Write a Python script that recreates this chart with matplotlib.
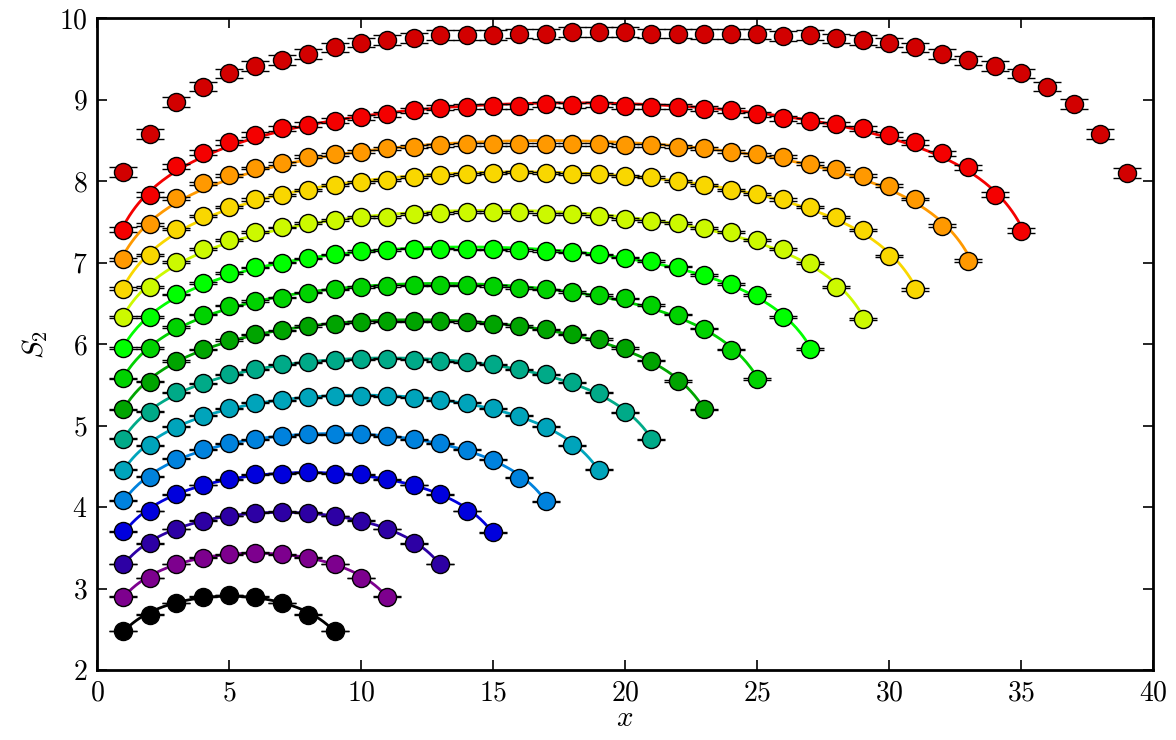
import numpy as np
import matplotlib
matplotlib.use('Agg')
import matplotlib.pyplot as plt

plt.rcParams['font.family'] = 'serif'
plt.rcParams['font.serif'] = ['cmr10']
plt.rcParams['mathtext.fontset'] = 'cm'
plt.rcParams['axes.formatter.use_mathtext'] = True

# chain lengths and second Renyi entropy for each cut position x = 1..L-1
sizes = [10, 12, 14, 16, 18, 20, 22, 24, 26, 28, 30, 32, 34, 36, 40]

s2_10 = [2.48, 2.68, 2.82, 2.90, 2.92, 2.90, 2.82, 2.68, 2.48]
s2_12 = [2.90, 3.13, 3.30, 3.38, 3.42, 3.44, 3.42, 3.38, 3.30, 3.13, 2.90]
s2_14 = [3.30, 3.555, 3.73, 3.83, 3.89, 3.93, 3.94, 3.93, 3.89, 3.83, 3.73,
         3.555, 3.30]
s2_16 = [3.70, 3.95, 4.155, 4.27, 4.34, 4.40, 4.41, 4.425, 4.41, 4.40, 4.34,
         4.27, 4.155, 3.95, 3.69]
s2_18 = [4.08, 4.37, 4.59, 4.71, 4.78, 4.83, 4.87, 4.89, 4.895, 4.89, 4.87,
         4.83, 4.78, 4.70, 4.58, 4.36, 4.07]
s2_20 = [4.46, 4.76, 4.985, 5.12, 5.21, 5.28, 5.31, 5.345, 5.365, 5.365, 5.36,
         5.34, 5.31, 5.28, 5.21, 5.12, 4.985, 4.76, 4.46]
s2_22 = [4.84, 5.17, 5.41, 5.52, 5.63, 5.69, 5.75, 5.775, 5.80, 5.815, 5.82,
         5.81, 5.79, 5.775, 5.75, 5.69, 5.63, 5.53, 5.40, 5.16, 4.83]
s2_24 = [5.20, 5.54, 5.79, 5.935, 6.05, 6.12, 6.17, 6.22, 6.25, 6.27, 6.28,
         6.28, 6.28, 6.27, 6.25, 6.22, 6.18, 6.12, 6.06, 5.95, 5.795, 5.545, 5.20]
s2_26 = [5.58, 5.95, 6.21, 6.36, 6.47, 6.53, 6.57, 6.63, 6.67, 6.70, 6.71,
         6.72, 6.72, 6.72, 6.71, 6.69, 6.67, 6.64, 6.60, 6.56, 6.48, 6.36, 6.19,
         5.93, 5.57]
s2_28 = [5.95, 6.335, 6.61, 6.75, 6.87, 6.94, 7.00, 7.05, 7.10, 7.145, 7.15,
         7.17, 7.17, 7.16, 7.16, 7.15, 7.14, 7.125, 7.10, 7.06, 7.02, 6.95, 6.85,
         6.74, 6.60, 6.33, 5.94]
s2_30 = [6.33, 6.70, 7.01, 7.17, 7.28, 7.37, 7.43, 7.48, 7.52, 7.555, 7.56,
         7.60, 7.61, 7.62, 7.62, 7.62, 7.60, 7.60, 7.57, 7.54, 7.51, 7.48, 7.42,
         7.38, 7.28, 7.17, 7.00, 6.70, 6.31]
s2_32 = [6.68, 7.09, 7.41, 7.57, 7.68, 7.775, 7.83, 7.89, 7.95, 7.99, 8.01,
         8.05, 8.07, 8.09, 8.10, 8.11, 8.10, 8.09, 8.09, 8.06, 8.05, 8.00, 7.95,
         7.89, 7.84, 7.775, 7.685, 7.56, 7.40, 7.08, 6.67]
s2_34 = [7.04, 7.47, 7.79, 7.97, 8.07, 8.16, 8.22, 8.30, 8.33, 8.36, 8.40,
         8.42, 8.44, 8.45, 8.45, 8.45, 8.45, 8.45, 8.45, 8.44, 8.44, 8.42, 8.40,
         8.36, 8.33, 8.30, 8.21, 8.15, 8.065, 7.94, 7.78, 7.45, 7.02]
s2_36 = [7.40, 7.83, 8.18, 8.35, 8.475, 8.57, 8.65, 8.69, 8.74, 8.78, 8.82,
         8.87, 8.90, 8.91, 8.92, 8.92, 8.94, 8.93, 8.94, 8.92, 8.91, 8.91, 8.89,
         8.87, 8.82, 8.77, 8.74, 8.70, 8.65, 8.57, 8.475, 8.34, 8.17, 7.83, 7.39]
s2_40 = [8.107, 8.58, 8.97, 9.16, 9.32, 9.415, 9.485, 9.56, 9.64, 9.70, 9.73,
         9.76, 9.79, 9.79, 9.79, 9.81, 9.80, 9.825, 9.825, 9.83, 9.81, 9.81,
         9.80, 9.80, 9.80, 9.78, 9.79, 9.75, 9.73, 9.70, 9.64, 9.555, 9.48,
         9.41, 9.32, 9.16, 8.95, 8.58, 8.10]

s2_data = [s2_10, s2_12, s2_14, s2_16, s2_18, s2_20, s2_22, s2_24, s2_26,
           s2_28, s2_30, s2_32, s2_34, s2_36, s2_40]

# statistical error bars, one value per chain length
s2_err = [0.004, 0.004, 0.005, 0.005, 0.006, 0.006, 0.007, 0.008, 0.009,
          0.010, 0.012, 0.014, 0.018, 0.03, 0.06]

fig = plt.figure(figsize=(11.76, 7.4), dpi=100)
ax = fig.add_axes([0.0825, 0.0946, 0.898, 0.881])

n = len(sizes)
for i, (L, s2, err) in enumerate(zip(sizes, s2_data, s2_err)):
    col = plt.cm.nipy_spectral(i / n)
    x = np.arange(1, L)
    y = np.array(s2)
    if L != 40:
        # log-sine fit a*ln(sin(pi x / L)) + b
        A = np.vstack([np.log(np.sin(np.pi * x / L)), np.ones_like(x, dtype=float)]).T
        a, b = np.linalg.lstsq(A, y, rcond=None)[0]
        xs = np.linspace(1, L - 1, 300)
        ax.plot(xs, a * np.log(np.sin(np.pi * xs / L)) + b, color=col, lw=2.0, zorder=1)
    ax.errorbar(x, y, yerr=err, fmt='o', mfc=col, mec='k', mew=1.0, ms=13,
                ecolor='k', elinewidth=1.5, capsize=9.8, capthick=3.0, zorder=3)

ax.set_xlim(0, 40)
ax.set_ylim(2, 10)
ax.set_xticks(range(0, 41, 5))
ax.set_yticks(range(2, 11))
ax.tick_params(direction='in', length=7, width=1.2, top=True, right=True,
               labelsize=20, pad=7)
for sp in ax.spines.values():
    sp.set_linewidth(2)

ax.set_xlabel(r'$x$', fontsize=21, labelpad=0)
ax.set_ylabel(r'$S_2$', fontsize=21, labelpad=6)

fig.savefig('out.png', dpi=100)
